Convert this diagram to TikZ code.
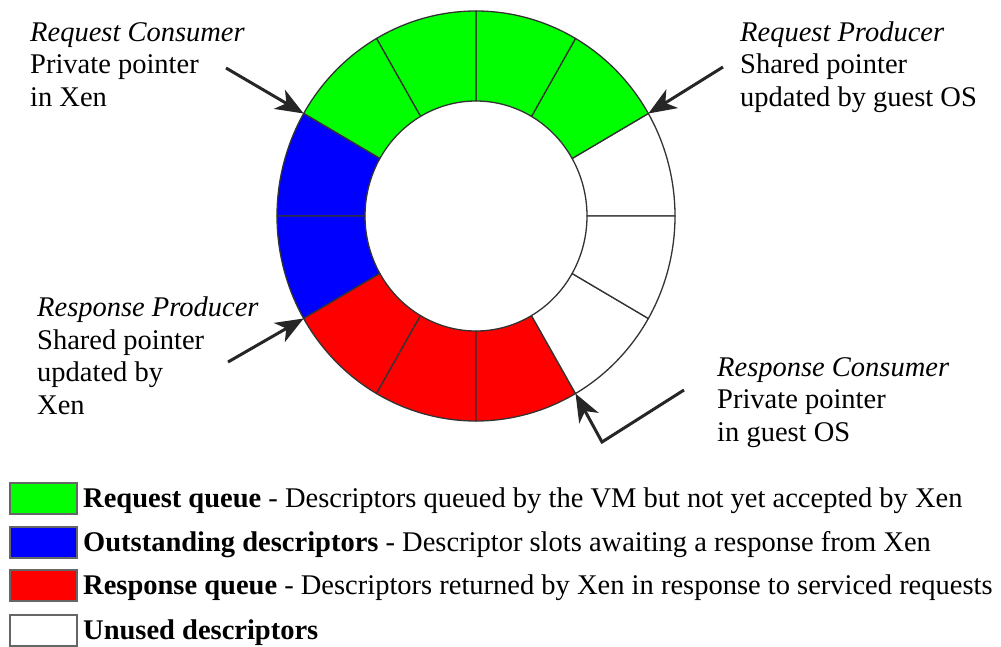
\documentclass[tikz,border=0pt]{standalone}
\usepackage{fontspec}
\setmainfont{Liberation Serif}
\usetikzlibrary{arrows.meta}
\begin{document}
\begin{tikzpicture}[x=1pt,y=-1pt,
  seg/.style={draw=black!80, line width=1.3pt, line join=round},
  ptr/.style={line width=3pt, black!85, line join=miter, -{Stealth[length=28pt,width=22pt,inset=8pt]}},
  lbl/.style={anchor=base west, inner sep=0pt, align=left, font=\fontsize{28.5}{32.5}\selectfont},
  key/.style={draw=black!60, line width=1.5pt, minimum width=67pt, minimum height=31pt, inner sep=0pt, anchor=north west},
  keytxt/.style={anchor=base west, inner sep=0pt, font=\fontsize{28.5}{34}\selectfont}]
\useasboundingbox (0,0) rectangle (1001,646);
\begin{scope}[shift={(476,216)}, y=1pt]
\foreach \a/\c in {0/white,30/green,60/green,90/green,120/green,150/blue,180/blue,210/red,240/red,270/red,300/white,330/white}{
  \pgfmathsetmacro\b{\a+30}
  \filldraw[seg, fill=\c] (\a:111 and 115) arc[start angle=\a, end angle=\b, x radius=111, y radius=115] -- (\b:199 and 205) arc[start angle=\b, end angle=\a, x radius=199, y radius=205] -- cycle;
}
\coordinate (rc) at (150:199 and 205);
\coordinate (rp) at (30:199 and 205);
\coordinate (sp) at (210:199 and 205);
\coordinate (sc) at (300:199 and 205);
\end{scope}
% base anchor of a multi-line node is the baseline of its last line
\node[lbl] (rcT) at (30,106) {\textit{Request Consumer}\\Private pointer\\in Xen};
\node[lbl] (rpT) at (740,106) {\textit{Request Producer}\\Shared pointer\\updated by guest OS};
\node[lbl] (spT) at (37,414) {\textit{Response Producer}\\Shared pointer\\updated by\\Xen};
\node[lbl] (scT) at (717,441) {\textit{Response Consumer}\\Private pointer\\in guest OS};
\coordinate (rcA) at (226,68);
\coordinate (rpA) at (723,67);
\coordinate (spA) at (228,362);
\coordinate (scA) at (684,390);
\coordinate (scB) at (602,442);
\draw[ptr] (rcA) -- (rc);
\draw[ptr] (rpA) -- (rp);
\draw[ptr] (spA) -- (sp);
\draw[ptr] (scA) -- (scB) -- (sc);
\node[key, fill=green] (k1) at (9,482) {};
\node[key, fill=blue] (k2) at (9,526) {};
\node[key, fill=red] (k3) at (9,569) {};
\node[key, fill=white] (k4) at (9,614) {};
\node[keytxt] (t1) at (83,507) {\textbf{Request queue} - Descriptors queued by the VM but not yet accepted by Xen};
\node[keytxt] (t2) at (83,551) {\textbf{Outstanding descriptors} - Descriptor slots awaiting a response from Xen};
\node[keytxt] (t3) at (83,594) {\textbf{Response queue} - Descriptors returned by Xen in response to serviced requests};
\node[keytxt] (t4) at (83,639) {\textbf{Unused descriptors}};
\end{tikzpicture}
\end{document}
